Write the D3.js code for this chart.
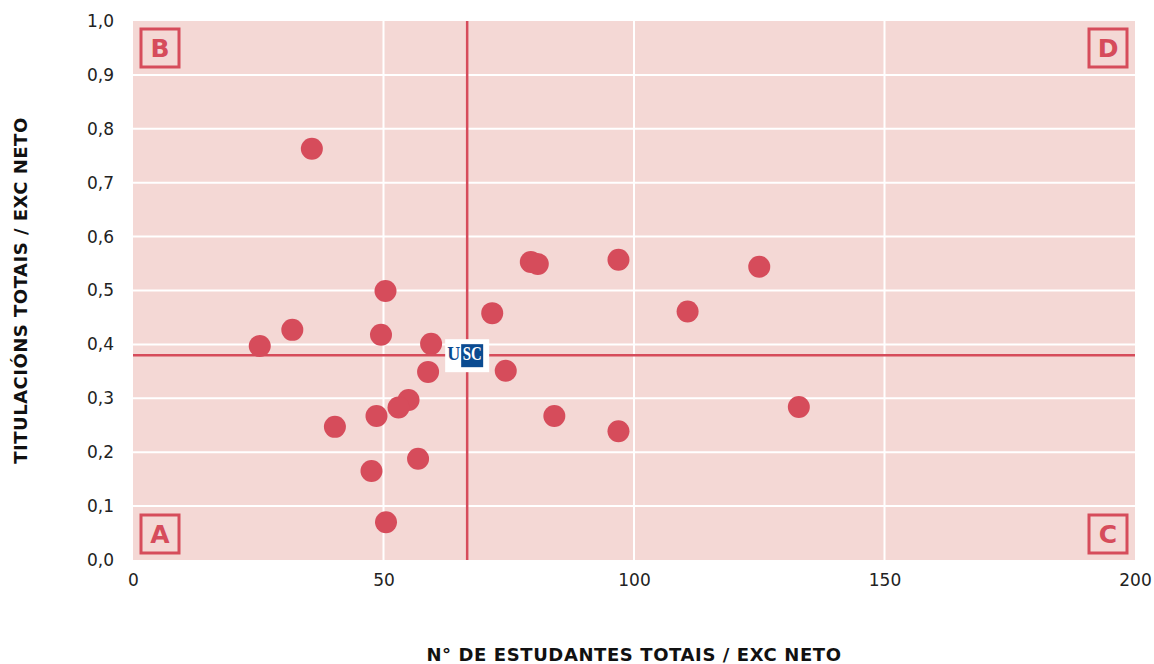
<!DOCTYPE html>
<html>
<head>
<meta charset="utf-8">
<script src="https://cdn.jsdelivr.net/npm/d3@7"></script>
<style>
  body { margin: 0; background: #fff; }
  svg text { font-family: "DejaVu Sans", "Open Sans", sans-serif; }
</style>
</head>
<body>
<div id="chart"></div>
<script>
const WIDTH = 1154
const HEIGHT = 664

const MARGIN = {
    top: 21,
    bot: 104,
    left: 133,
    right: 19
}

// estudantes totais / exc neto
const xValues = [25.3, 31.8, 50.4, 49.5, 59.5, 58.9, 55.0, 53.0, 48.6, 40.3, 56.9, 47.6,
    50.5, 35.7, 79.4, 80.8, 96.9, 125.0, 71.7, 110.7, 74.4, 84.1, 96.9, 132.9]
// titulacións totais / exc neto
const yValues = [0.397, 0.427, 0.499, 0.418, 0.401, 0.349, 0.297, 0.283, 0.267, 0.247, 0.188, 0.165,
    0.070, 0.763, 0.553, 0.549, 0.557, 0.544, 0.458, 0.461, 0.351, 0.267, 0.239, 0.284]

// USC reference point (quadrant split)
const uscX = 66.7
const uscY = 0.38

const xTicks = [0, 50, 100, 150, 200]
const yTicks = [0, 0.1, 0.2, 0.3, 0.4, 0.5, 0.6, 0.7, 0.8, 0.9, 1.0]
const quadrants = [
    {label: "A", x: 0, y: 0},
    {label: "B", x: 0, y: 1},
    {label: "C", x: 200, y: 0},
    {label: "D", x: 200, y: 1}
]

const RED = "#d64c5b"
const BG = "#f4d8d5"

const svg = d3.select("#chart")
    .append("svg")
    .attr("width", WIDTH)
    .attr("height", HEIGHT)

const xScale = d3.scaleLinear()
    .domain([0, 200])
    .range([MARGIN.left, WIDTH - MARGIN.right])

const yScale = d3.scaleLinear()
    .domain([0, 1])
    .range([HEIGHT - MARGIN.bot, MARGIN.top])

// background
svg.append("rect")
    .attr("x", xScale(0))
    .attr("y", yScale(1))
    .attr("width", xScale(200) - xScale(0))
    .attr("height", yScale(0) - yScale(1))
    .attr("fill", BG)

// grid
svg.append("g")
    .selectAll("line")
    .data(yTicks.slice(1, -1))
    .join("line")
    .attr("x1", xScale(0))
    .attr("x2", xScale(200))
    .attr("y1", d => yScale(d))
    .attr("y2", d => yScale(d))
    .attr("stroke", "#fff")
    .attr("stroke-width", 2)

svg.append("g")
    .selectAll("line")
    .data(xTicks.slice(1, -1))
    .join("line")
    .attr("x1", d => xScale(d))
    .attr("x2", d => xScale(d))
    .attr("y1", yScale(0))
    .attr("y2", yScale(1))
    .attr("stroke", "#fff")
    .attr("stroke-width", 2)

// axes
const xAxis = d3.axisBottom(xScale).tickValues(xTicks).tickSize(0).tickPadding(14)
const yAxis = d3.axisLeft(yScale).tickValues(yTicks).tickSize(0).tickPadding(19)
    .tickFormat(d => d3.format(".1f")(d).replace(".", ","))

const gx = svg.append("g")
    .attr("transform", `translate(0, ${yScale(0)})`)
    .call(xAxis)
gx.select(".domain").remove()
gx.selectAll("text").attr("font-size", 17).attr("fill", "#222")

const gy = svg.append("g")
    .attr("transform", `translate(${MARGIN.left}, 0)`)
    .call(yAxis)
gy.select(".domain").remove()
gy.selectAll("text").attr("font-size", 17).attr("fill", "#222")

// quadrant split lines
svg.append("line")
    .attr("x1", xScale(uscX))
    .attr("x2", xScale(uscX))
    .attr("y1", yScale(0))
    .attr("y2", yScale(1))
    .attr("stroke", RED)
    .attr("stroke-width", 2.5)

svg.append("line")
    .attr("x1", xScale(0))
    .attr("x2", xScale(200))
    .attr("y1", yScale(uscY))
    .attr("y2", yScale(uscY))
    .attr("stroke", RED)
    .attr("stroke-width", 2.5)

// quadrant labels
const qg = svg.append("g")
    .selectAll("g")
    .data(quadrants)
    .join("g")
    .attr("transform", d => {
        const cx = xScale(d.x) + (d.x === 0 ? 27 : -27)
        const cy = yScale(d.y) + (d.y === 0 ? -26 : 27)
        return `translate(${cx}, ${cy})`
    })

qg.append("rect")
    .attr("x", -19)
    .attr("y", -19)
    .attr("width", 38)
    .attr("height", 38)
    .attr("fill", "none")
    .attr("stroke", RED)
    .attr("stroke-width", 3)

qg.append("text")
    .attr("text-anchor", "middle")
    .attr("dy", "0.37em")
    .attr("font-size", 25)
    .attr("font-weight", 700)
    .attr("fill", RED)
    .text(d => d.label)

// points
svg.append("g")
    .selectAll("circle")
    .data(xValues.map((x, i) => ({x: x, y: yValues[i]})))
    .join("circle")
    .attr("cx", d => xScale(d.x))
    .attr("cy", d => yScale(d.y))
    .attr("r", 11)
    .attr("fill", RED)

// USC logo at reference point
const logo = svg.append("g")
    .attr("transform", `translate(${xScale(uscX)}, ${yScale(uscY)})`)

logo.append("rect")
    .attr("x", -22)
    .attr("y", -16)
    .attr("width", 44)
    .attr("height", 33)
    .attr("fill", "#fff")

logo.append("rect")
    .attr("x", -6)
    .attr("y", -11)
    .attr("width", 22)
    .attr("height", 23)
    .attr("fill", "#0a4b91")

logo.append("text")
    .attr("x", -13.5)
    .attr("y", 5)
    .attr("text-anchor", "middle")
    .style("font-family", "'Liberation Serif', serif")
    .attr("font-size", 18)
    .attr("font-weight", 700)
    .attr("fill", "#0a4b91")
    .text("U")

logo.append("text")
    .attr("x", 5)
    .attr("y", 5)
    .attr("text-anchor", "middle")
    .attr("textLength", 19)
    .attr("lengthAdjust", "spacingAndGlyphs")
    .style("font-family", "'Liberation Serif', serif")
    .attr("font-size", 18)
    .attr("font-weight", 700)
    .attr("fill", "#fff")
    .text("SC")

// axis titles
svg.append("text")
    .attr("x", (xScale(0) + xScale(200)) / 2)
    .attr("y", 661)
    .attr("text-anchor", "middle")
    .attr("font-size", 18)
    .attr("letter-spacing", 0.6)
    .attr("font-weight", 700)
    .attr("fill", "#111")
    .text("N° DE ESTUDANTES TOTAIS / EXC NETO")

svg.append("text")
    .attr("transform", `translate(27, ${(yScale(0) + yScale(1)) / 2}) rotate(-90)`)
    .attr("text-anchor", "middle")
    .attr("font-size", 18)
    .attr("letter-spacing", 0.5)
    .attr("font-weight", 700)
    .attr("fill", "#111")
    .text("TITULACIÓNS TOTAIS / EXC NETO")
</script>
</body>
</html>
